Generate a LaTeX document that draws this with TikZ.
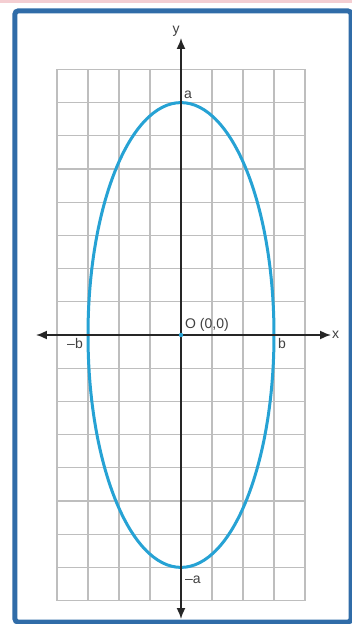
\documentclass[tikz,border=0pt]{standalone}
\usepackage{fontspec}
\setmainfont{Liberation Sans}
\usetikzlibrary{arrows.meta}

\definecolor{framecol}{RGB}{48,108,168}
\definecolor{curvecol}{RGB}{38,162,212}
\definecolor{gridcol}{RGB}{190,190,190}
\definecolor{stripcol}{RGB}{244,206,210}

\begin{document}
\begin{tikzpicture}[x=1pt, y=1pt,
	every node/.style={inner sep=1pt, font=\fontsize{14}{16}\selectfont, text=black!75},
	axis/.style={line width=1.6pt, black!85, {Latex[length=11pt,width=9pt]}-{Latex[length=11pt,width=9pt]}},
	curve/.style={line width=3pt, curvecol}]
	\useasboundingbox (-181,-289) rectangle (171,335);
	\fill[white] (-181,-289) rectangle (171,335);
	\fill[stripcol] (-181,332) rectangle (171,335);
	\draw[framecol, line width=5pt, rounded corners=3pt] (-166,-287) rectangle (170,324);
	% grid 8 x 16 cells
	\draw[gridcol, line width=1.3pt, xstep=31, ystep=33.2] (-124,-265.6) grid (124,265.6);
	\draw[curve] (0,0) ellipse [x radius=93, y radius=232.4];
	% axes
	\coordinate (O) at (0,0);
	\coordinate (xL) at (-145,0);
	\coordinate (xR) at (150,0);
	\coordinate (yB) at (0,-284);
	\coordinate (yT) at (0,297);
	\draw[axis] (xL) -- (xR);
	\draw[axis] (yB) -- (yT);
	\fill[curvecol] (O) circle (2.2);
	% labels
	\node[anchor=west] (xlab) at (xR) {x};
	\node[anchor=south, xshift=-5pt] (ylab) at (yT) {y};
	\node[anchor=south west] (alab) at (2,235) {a};
	\node[anchor=north west] (malab) at (3,-240) {–a};
	\node[anchor=north east] (mblab) at (-97,-2) {–b};
	\node[anchor=north west] (blab) at (96,-2) {b};
	\node[anchor=south west] (olab) at (3,2) {O (0,0)};
\end{tikzpicture}
\end{document}
